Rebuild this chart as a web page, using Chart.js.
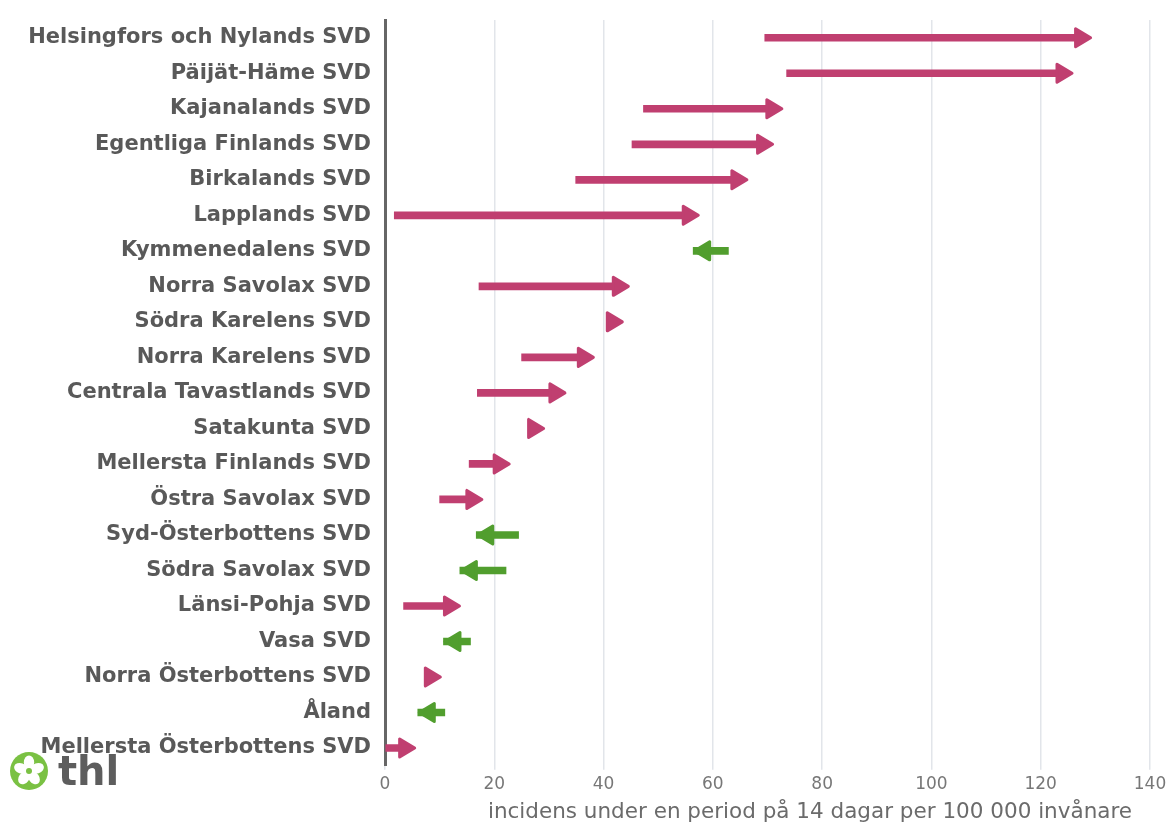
<!DOCTYPE html>
<html>
<head>
<meta charset="utf-8">
<script src="https://cdn.jsdelivr.net/npm/chart.js@4/dist/chart.umd.min.js"></script>
<style>
  html, body { margin: 0; padding: 0; background: #fff; }
  #wrap { width: 1168px; height: 825px; position: relative; }
</style>
</head>
<body>
<div id="wrap"><canvas id="chart"></canvas></div>
<script>
// Regions, top to bottom
const categories = [
    'Helsingfors och Nylands SVD', 'Päijät-Häme SVD', 'Kajanalands SVD',
    'Egentliga Finlands SVD', 'Birkalands SVD', 'Lapplands SVD',
    'Kymmenedalens SVD', 'Norra Savolax SVD', 'Södra Karelens SVD',
    'Norra Karelens SVD', 'Centrala Tavastlands SVD', 'Satakunta SVD',
    'Mellersta Finlands SVD', 'Östra Savolax SVD', 'Syd-Österbottens SVD',
    'Södra Savolax SVD', 'Länsi-Pohja SVD', 'Vasa SVD',
    'Norra Österbottens SVD', 'Åland', 'Mellersta Österbottens SVD'
];

// Incidence in the previous period (arrow tail) and the latest period (arrow tip)
const startValues = [69.5, 73.5, 47.3, 45.2, 34.9, 1.7, 61.2, 17.2, 41.0, 25.0, 16.9,
                     27.0, 15.4, 10.0, 22.8, 20.5, 3.4, 14.0, 7.5, 9.3, 0.0];
const endValues   = [129.4, 126.0, 72.9, 71.2, 66.5, 57.6, 56.4, 44.8, 43.7, 38.4, 33.2,
                     29.3, 23.0, 18.0, 16.7, 13.7, 13.9, 10.7, 10.4, 6.0, 5.7];

const xMin = 0, xMax = 140, xStep = 20;
const axisTitle = 'incidens under en period på 14 dagar per 100 000 invånare';

const UP = '#c03f70';
const DOWN = '#519e2e';
const colorFor = i => endValues[i] >= startValues[i] ? UP : DOWN;

const HEAD_LEN = 18;
const HEAD_HALF = 10.5;

// Pull the shaft back a bit so it does not poke through the rounded tip
const trimShafts = {
    id: 'trimShafts',
    afterDatasetsUpdate(chart) {
        const meta = chart.getDatasetMeta(0);
        meta.data.forEach((bar, i) => {
            const dir = endValues[i] >= startValues[i] ? 1 : -1;
            bar.x -= dir * 9;
        });
    }
};

const arrowHeads = {
    id: 'arrowHeads',
    afterDatasetsDraw(chart) {
        const { ctx, scales: { x, y } } = chart;
        ctx.save();
        ctx.lineJoin = 'round';
        ctx.lineWidth = 3;
        endValues.forEach((v, i) => {
            const dir = v >= startValues[i] ? 1 : -1;
            const tip = x.getPixelForValue(v) - dir * 1.5;
            const cy = y.getPixelForValue(i);
            const back = tip - dir * (HEAD_LEN - 3);
            ctx.fillStyle = colorFor(i);
            ctx.strokeStyle = colorFor(i);
            ctx.beginPath();
            ctx.moveTo(tip, cy);
            ctx.lineTo(back, cy - HEAD_HALF + 1.5);
            ctx.lineTo(back, cy + HEAD_HALF - 1.5);
            ctx.closePath();
            ctx.fill();
            ctx.stroke();
        });
        ctx.restore();
    }
};

// thl logo in the bottom left corner
const logo = {
    id: 'logo',
    beforeDraw(chart) {
        const ctx = chart.ctx;
        const cx = 29, cy = 771, r = 19;
        ctx.save();
        ctx.fillStyle = '#7ac143';
        ctx.beginPath();
        ctx.arc(cx, cy, r, 0, Math.PI * 2);
        ctx.fill();
        ctx.fillStyle = '#fff';
        for (let k = 0; k < 5; k++) {
            const a = -Math.PI / 2 + k * 2 * Math.PI / 5;
            ctx.beginPath();
            ctx.ellipse(cx + Math.cos(a) * 8.5, cy + Math.sin(a) * 8.5, 7, 5.2, a, 0, Math.PI * 2);
            ctx.fill();
        }
        ctx.fillStyle = '#7ac143';
        ctx.beginPath();
        ctx.arc(cx, cy, 3, 0, Math.PI * 2);
        ctx.fill();
        ctx.fillStyle = '#5d5d5d';
        ctx.font = 'bold 40px "DejaVu Sans"';
        ctx.textBaseline = 'alphabetic';
        ctx.fillText('thl', 58, 785);
        ctx.restore();
    }
};

new Chart(document.getElementById('chart'), {
    type: 'bar',
    data: {
        labels: categories,
        datasets: [{
            data: categories.map((c, i) => [startValues[i], endValues[i]]),
            backgroundColor: categories.map((c, i) => colorFor(i)),
            barThickness: 7,
            borderWidth: 0
        }]
    },
    options: {
        indexAxis: 'y',
        responsive: true,
        maintainAspectRatio: false,
        animation: false,
        layout: { padding: { left: 27, right: 18, top: 20, bottom: 0 } },
        plugins: {
            legend: { display: false },
            tooltip: { enabled: false }
        },
        scales: {
            y: {
                grid: { display: false, drawTicks: false },
                border: { display: true, color: '#666666', width: 3 },
                afterFit: scale => {
                    scale.width = 358;
                    scale.paddingTop = 0;
                    scale.paddingBottom = 0;
                },
                ticks: {
                    autoSkip: false,
                    padding: 14,
                    color: '#595959',
                    font: { family: 'DejaVu Sans', size: 21, weight: 'bold' }
                }
            },
            x: {
                min: xMin,
                max: xMax,
                grid: { color: '#e2e5ea', lineWidth: 1.5, tickLength: 4 },
                border: { display: false },
                afterFit: scale => {
                    scale.paddingLeft = 0;
                    scale.paddingRight = 0;
                },
                ticks: {
                    stepSize: xStep,
                    padding: 4.5,
                    color: '#777777',
                    font: { family: 'DejaVu Sans', size: 17 }
                },
                title: {
                    display: true,
                    text: axisTitle + '\u00a0\u00a0\u2009',
                    align: 'end',
                    color: '#6b6b6b',
                    padding: { top: 0, bottom: 0 },
                    font: { family: 'DejaVu Sans', size: 21.5 }
                }
            }
        }
    },
    plugins: [logo, trimShafts, arrowHeads]
});
</script>
</body>
</html>
